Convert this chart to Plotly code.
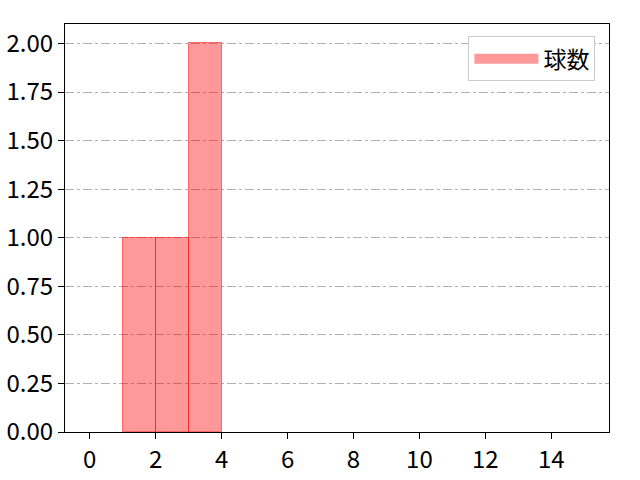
import plotly.graph_objects as go

# histogram data
bin_left = [1, 2, 3]
bin_width = [1, 1, 1]
counts = [1, 1, 2]
series_name = "球数"

x_ticks = [0, 2, 4, 6, 8, 10, 12, 14]
y_ticks = [0, 0.25, 0.5, 0.75, 1.0, 1.25, 1.5, 1.75, 2.0]

centers = [l + w / 2 for l, w in zip(bin_left, bin_width)]
fill = "rgba(255,0,0,0.4)"

fig = go.Figure()
fig.add_trace(go.Bar(
    x=centers, y=counts, width=bin_width, name=series_name,
    marker=dict(color=fill, line=dict(color="rgba(255,0,0,0.5)", width=1)),
    showlegend=False,
))
# legend proxy so the key looks like a wide patch
fig.add_trace(go.Scatter(
    x=[None], y=[None], mode="lines", name=series_name,
    line=dict(color=fill, width=18),
))

font = "Noto Sans CJK JP, DejaVu Sans, sans-serif"
fig.update_layout(
    width=640, height=480,
    margin=dict(l=65, r=31, t=24, b=48),
    paper_bgcolor="white", plot_bgcolor="white",
    font=dict(family=font, size=24, color="black"),
    bargap=0,
    legend=dict(x=0.975, y=0.97, xanchor="right", yanchor="top",
                bordercolor="#cccccc", borderwidth=1, bgcolor="white",
                font=dict(size=23), itemwidth=64),
    xaxis=dict(range=[-0.75, 15.75], tickvals=x_ticks, automargin=False,
               showgrid=False, zeroline=False,
               showline=True, linecolor="black", linewidth=1, mirror=True,
               ticks="outside", ticklen=6, tickcolor="black"),
    yaxis=dict(range=[0, 2.1], tickvals=y_ticks, tickformat=".2f", automargin=False,
               showgrid=True, gridcolor="#b0b0b0", griddash="dashdot", gridwidth=1,
               zeroline=False,
               showline=True, linecolor="black", linewidth=1, mirror=True,
               ticks="outside", ticklen=6, tickcolor="black"),
)

# drop the default body margin so the plot sits where the margins say
fig.write_html("out.html", config={"displayModeBar": False},
               post_script="document.body.style.margin='0';")
